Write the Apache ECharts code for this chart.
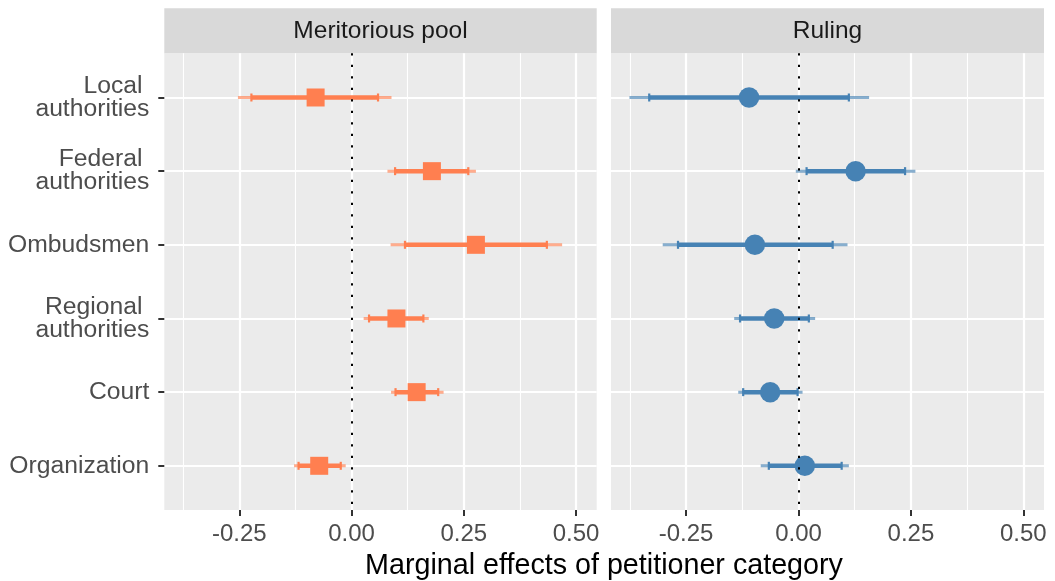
<!DOCTYPE html>
<html>
<head>
<meta charset="utf-8">
<script src="https://cdn.jsdelivr.net/npm/echarts@6/dist/echarts.min.js"></script>
<style>
  html, body { margin: 0; padding: 0; background: #fff; }
  #chart { width: 1055px; height: 581px; }
</style>
</head>
<body>
<div id="chart"></div>
<script>
// categories, top to bottom
var categories = ['Local \nauthorities', 'Federal \nauthorities', 'Ombudsmen', 'Regional \nauthorities', 'Court', 'Organization'];
var panels = ['Meritorious pool', 'Ruling'];
var xTicks = [-0.25, 0, 0.25, 0.5];
var xMinor = [-0.375, -0.125, 0.125, 0.375];

// Meritorious pool: estimate, 95% and 90% bounds
var meritEst  = [-0.080, 0.179, 0.277, 0.100, 0.145, -0.072];
var meritLo95 = [-0.253, 0.080, 0.087, 0.027, 0.088, -0.128];
var meritLo90 = [-0.223, 0.097, 0.119, 0.039, 0.098, -0.118];
var meritHi90 = [0.059, 0.260, 0.435, 0.160, 0.193, -0.024];
var meritHi95 = [0.089, 0.277, 0.469, 0.172, 0.205, -0.013];

// Ruling
var rulingEst  = [-0.110, 0.127, -0.097, -0.054, -0.063, 0.014];
var rulingLo95 = [-0.376, -0.006, -0.302, -0.143, -0.134, -0.084];
var rulingLo90 = [-0.332, 0.018, -0.268, -0.130, -0.123, -0.066];
var rulingHi90 = [0.112, 0.237, 0.076, 0.023, -0.002, 0.096];
var rulingHi95 = [0.157, 0.260, 0.109, 0.037, 0.009, 0.112];

var FONT = 'Liberation Sans';
var yPos = categories.map(function (c, i) { return i + 1; });

function barRows(lo95, lo90, hi90, hi95) {
  return yPos.map(function (y, i) { return [y, lo95[i], lo90[i], hi90[i], hi95[i]]; });
}
function pointRows(est) {
  return yPos.map(function (y, i) { return [est[i], y]; });
}

// thin outer (95%) line, thicker inner (90%) line with small caps
function renderBar(params, api) {
  var y = api.value(0);
  var a = api.coord([api.value(1), y]);
  var b = api.coord([api.value(2), y]);
  var c = api.coord([api.value(3), y]);
  var d = api.coord([api.value(4), y]);
  var color = api.visual('color');
  return {
    type: 'group',
    children: [
      { type: 'line', shape: { x1: a[0], y1: a[1], x2: d[0], y2: d[1] }, style: { stroke: color, lineWidth: 3, opacity: 0.65 } },
      { type: 'line', shape: { x1: b[0], y1: b[1], x2: c[0], y2: c[1] }, style: { stroke: color, lineWidth: 4.5 } },
      { type: 'line', shape: { x1: b[0], y1: b[1] - 4, x2: b[0], y2: b[1] + 4 }, style: { stroke: color, lineWidth: 2.2 } },
      { type: 'line', shape: { x1: c[0], y1: c[1] - 4, x2: c[0], y2: c[1] + 4 }, style: { stroke: color, lineWidth: 2.2 } }
    ]
  };
}

var grids = [
  { left: 164.3, right: 458.3, top: 53.3, bottom: 71, show: true, backgroundColor: '#EBEBEB', borderWidth: 0 },
  { left: 611, right: 11, top: 53.3, bottom: 71, show: true, backgroundColor: '#EBEBEB', borderWidth: 0 }
];

function majorX(g) {
  return {
    type: 'value', gridIndex: g, min: -0.417, max: 0.546, position: 'bottom',
    axisLine: { show: false, onZero: false },
    axisTick: { show: true, length: 6, lineStyle: { color: '#333333', width: 2 }, customValues: xTicks },
    axisLabel: { show: true, customValues: xTicks, margin: 12, color: '#4D4D4D', fontSize: 24, fontFamily: FONT,
      formatter: function (v) { return v.toFixed(2); } },
    splitLine: { show: true, lineStyle: { color: '#FFFFFF', width: 2.2 } }
  };
}
function minorX(g) {
  return {
    type: 'value', gridIndex: g, min: -0.417, max: 0.546, position: 'top',
    axisLine: { show: false, onZero: false },
    axisTick: { show: false, customValues: xMinor },
    axisLabel: { show: false },
    splitLine: { show: true, lineStyle: { color: '#FFFFFF', width: 1.1 } }
  };
}
function yAx(g, labels) {
  return {
    type: 'value', gridIndex: g, min: 0.4, max: 6.6, inverse: true,
    axisLine: { show: false, onZero: false },
    axisTick: { show: labels, length: 6, lineStyle: { color: '#333333', width: 2 }, customValues: yPos },
    axisLabel: { show: labels, customValues: yPos, margin: 15, color: '#4D4D4D', fontSize: 24.7, fontFamily: FONT,
      lineHeight: 23, align: 'right',
      formatter: function (v) { return categories[Math.round(v) - 1]; } },
    splitLine: { show: true, lineStyle: { color: '#FFFFFF', width: 2.2 } }
  };
}

var zeroLine = {
  silent: true, symbol: 'none', label: { show: false },
  lineStyle: { color: '#000000', width: 2, type: [2.2, 9.3] },
  data: [{ xAxis: 0 }]
};

var colors = ['#FF7F50', '#4682B4'];
var series = [];
[[meritLo95, meritLo90, meritHi90, meritHi95, meritEst, 'rect', 18],
 [rulingLo95, rulingLo90, rulingHi90, rulingHi95, rulingEst, 'circle', 20.5]].forEach(function (p, g) {
  series.push({
    type: 'custom', xAxisIndex: g * 2, yAxisIndex: g, z: 2,
    itemStyle: { color: colors[g] },
    renderItem: renderBar,
    encode: { x: [1, 2, 3, 4], y: 0 },
    data: barRows(p[0], p[1], p[2], p[3])
  });
  series.push({
    type: 'scatter', xAxisIndex: g * 2, yAxisIndex: g, z: 3,
    symbol: p[5], symbolSize: p[6],
    itemStyle: { color: colors[g], opacity: 1 },
    data: pointRows(p[4])
  });
  series.push({
    type: 'line', xAxisIndex: g * 2, yAxisIndex: g, z: 5,
    data: [], markLine: zeroLine
  });
});

var graphics = [];
grids.forEach(function (gr, g) {
  var x0 = gr.left, x1 = 1055 - gr.right;
  graphics.push({ type: 'rect', left: x0, top: 8.3, shape: { width: x1 - x0, height: 45 }, style: { fill: '#D9D9D9' }, silent: true });
  graphics.push({ type: 'text', x: (x0 + x1) / 2, y: 31, style: { text: panels[g], fill: '#1A1A1A', font: '24.5px "' + FONT + '"', align: 'center', verticalAlign: 'middle' } });
});
graphics.push({ type: 'text', x: 604, y: 566, style: { text: 'Marginal effects of petitioner category', fill: '#000000', font: '28.7px "' + FONT + '"', align: 'center', verticalAlign: 'middle' } });

var myChart = echarts.init(document.getElementById('chart'));
myChart.setOption({
  animation: false,
  textStyle: { fontFamily: FONT },
  grid: grids,
  xAxis: [majorX(0), minorX(0), majorX(1), minorX(1)],
  yAxis: [yAx(0, true), yAx(1, false)],
  graphic: graphics,
  series: series
});
</script>
</body>
</html>
